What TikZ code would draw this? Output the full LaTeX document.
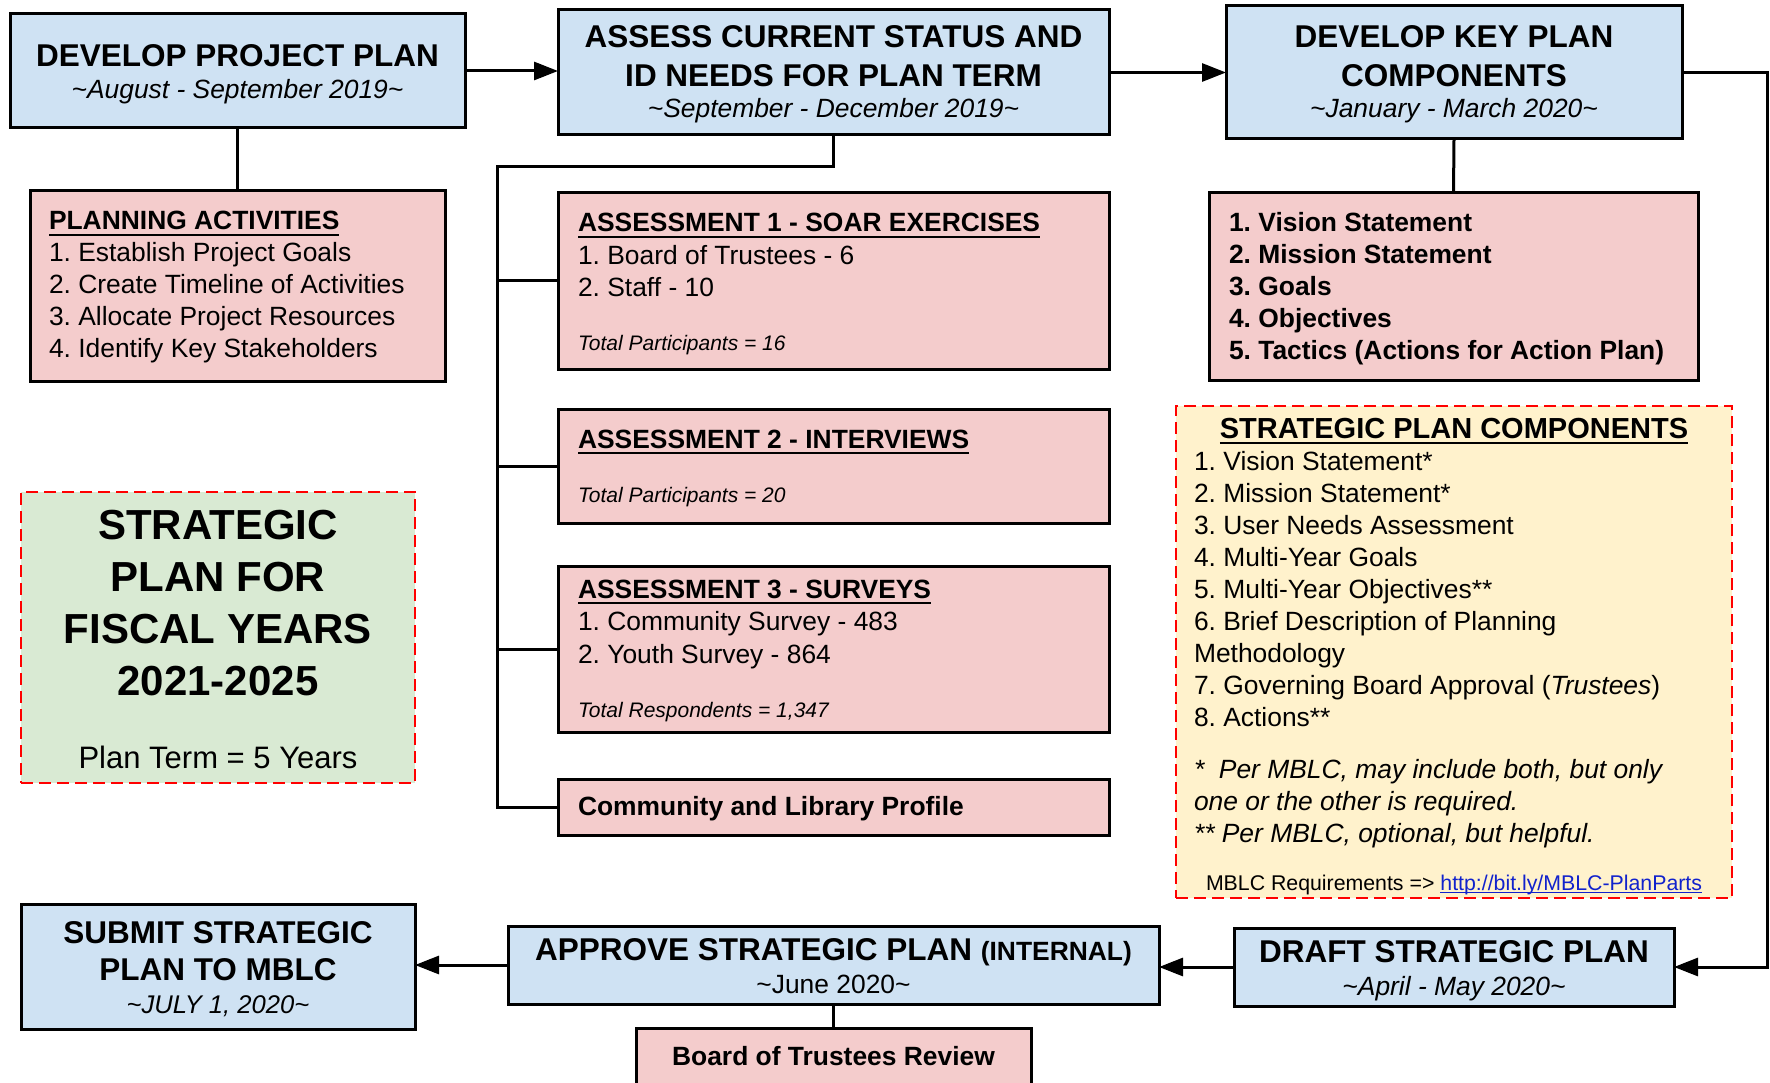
\documentclass[tikz,border=0pt]{standalone}
\usepackage{fontspec}
\setmainfont{Liberation Sans}
\usetikzlibrary{arrows.meta}

\definecolor{bluefill}{HTML}{CFE2F3}
\definecolor{pinkfill}{HTML}{F4CCCC}
\definecolor{greenfill}{HTML}{D9EAD3}
\definecolor{yellowfill}{HTML}{FFF2CC}
\definecolor{notered}{HTML}{FF0000}
\definecolor{linkblue}{RGB}{17,34,204}

% stacked lines with a fixed baseline distance; the box's baseline is the first line's
\newcommand{\clines}[2]{\vtop{\lineskiplimit=-100pt\baselineskip=#1\halign{\hfil##\hfil\cr#2\crcr}}}
\newcommand{\llines}[2]{\vtop{\lineskiplimit=-100pt\baselineskip=#1\halign{##\hfil\cr#2\crcr}}}
% heavy underline for headings, thin one for the link
\newcommand{\uln}[1]{\setbox0\hbox{#1}\rlap{\rule[-6pt]{\wd0}{2.2pt}}\box0}
\newcommand{\ulnk}[1]{\setbox0\hbox{#1}\rlap{\rule[-3.4pt]{\wd0}{1.6pt}}\box0}

\begin{document}
\frenchspacing
\begin{tikzpicture}[x=1pt,y=-1pt,
  box/.style={draw=black, line width=3pt, inner sep=0pt, outer sep=0pt, rectangle},
  bluebox/.style={box, fill=bluefill},
  pinkbox/.style={box, fill=pinkfill},
  notebox/.style={draw=notered, line width=2pt, dash pattern=on 12pt off 6pt, inner sep=0pt, outer sep=0pt, rectangle},
  link/.style={line width=3pt},
  arrow/.style={link, -{Triangle[length=24pt,width=18pt]}},
  txt/.style={inner sep=0pt, outer sep=0pt, text=black},
  head/.style={txt, font=\fontsize{31.5}{38}\selectfont\bfseries},
  when/.style={txt, font=\fontsize{26.4}{32}\selectfont\itshape},
  body/.style={txt, font=\fontsize{26.4}{32}\selectfont},
  bodybf/.style={txt, font=\fontsize{26.4}{32}\selectfont\bfseries},
  small/.style={txt, font=\fontsize{21}{25}\selectfont\itshape},
]
\path[use as bounding box] (0,0) rectangle (1770,1083);
\fill[white] (0,0) rectangle (1770,1083);
\begin{scope}
\clip (0,0) rectangle (1770,1083);

% ---- main process boxes
\node[bluebox, minimum width=455pt, minimum height=114pt] (dpp) at (237.5,71) {};
\node[bluebox, minimum width=551pt, minimum height=125pt] (assess) at (833.5,72.5) {};
\node[bluebox, minimum width=456pt, minimum height=133pt] (kpc) at (1454,72.5) {};
\node[bluebox, minimum width=440pt, minimum height=78pt] (draft) at (1454,967) {};
\node[bluebox, minimum width=651pt, minimum height=78pt] (approve) at (833.5,965) {};
\node[bluebox, minimum width=394pt, minimum height=125pt] (submit) at (218,966.5) {};

% ---- detail boxes
\node[pinkbox, minimum width=415pt, minimum height=190pt] (pa) at (237.5,286) {};
\node[pinkbox, minimum width=551pt, minimum height=176pt] (a1) at (833.5,281) {};
\node[pinkbox, minimum width=551pt, minimum height=114pt] (a2) at (833.5,466) {};
\node[pinkbox, minimum width=551pt, minimum height=166pt] (a3) at (833.5,649) {};
\node[pinkbox, minimum width=551pt, minimum height=56pt] (prof) at (833.5,807) {};
\node[pinkbox, minimum width=489pt, minimum height=187pt] (kplist) at (1453.5,286.5) {};
\node[pinkbox, minimum width=395pt, minimum height=67pt] (board) at (833.5,1061.5) {};

% ---- note boxes
\node[notebox, fill=greenfill, minimum width=394pt, minimum height=291pt] (plan) at (218,637.5) {};
\node[notebox, fill=yellowfill, minimum width=556pt, minimum height=492pt] (comp) at (1454,652) {};

% ---- connectors
\coordinate (rail) at (1767,500);
\coordinate (trunk) at (497,167);
\draw[arrow] (dpp.east) -- (dpp.east -| assess.west);
\draw[arrow] (assess.east) -- (kpc.west);
\draw[arrow] (kpc.east) -- (kpc.east -| rail) -- (draft.east -| rail) -- (draft.east);
\draw[arrow] (draft.west) -- (draft.west -| approve.east);
\draw[arrow] (approve.west) -- (approve.west -| submit.east);
\draw[link] (dpp.south) -- (pa.north);
\draw[link] (kpc.south) -- (kplist.north);
\draw[link] (approve.south) -- (board.north);
\draw[link] (assess.south) |- (trunk) -- (trunk |- prof.west) -- (prof.west);
\draw[link] (trunk |- a1.west) -- (a1.west);
\draw[link] (trunk |- a2.west) -- (a2.west);
\draw[link] (trunk |- a3.west) -- (a3.west);

% ---- texts of the process boxes
\node[head, anchor=base] (dppT) at (237.5,67) {DEVELOP PROJECT PLAN};
\node[when, anchor=base] (dppW) at (237.5,99) {\textasciitilde August - September 2019\textasciitilde};

\node[head, anchor=base] (assessT) at (833.5,48) {\clines{39pt}{ASSESS CURRENT STATUS AND\cr ID NEEDS FOR PLAN TERM}};
\node[when, anchor=base] (assessW) at (833.5,118) {\textasciitilde September - December 2019\textasciitilde};

\node[head, anchor=base] (kpcT) at (1454,48) {\clines{39pt}{DEVELOP KEY PLAN\cr COMPONENTS}};
\node[when, anchor=base] (kpcW) at (1454,118) {\textasciitilde January - March 2020\textasciitilde};

\node[head, anchor=base] (draftT) at (1454,962) {DRAFT STRATEGIC PLAN};
\node[when, anchor=base] (draftW) at (1454,995) {\textasciitilde April - May 2020\textasciitilde};

\node[head, anchor=base] (approveT) at (833.5,960) {APPROVE STRATEGIC PLAN {\fontsize{26.4}{32}\selectfont (INTERNAL)}};
\node[body, anchor=base] (approveW) at (833.5,993) {\textasciitilde June 2020\textasciitilde};

\node[head, anchor=base] (submitT) at (218,943) {\clines{37pt}{SUBMIT STRATEGIC\cr PLAN TO MBLC}};
\node[when, font=\fontsize{25.6}{31}\selectfont\itshape, anchor=base] (submitW) at (218,1013) {\textasciitilde JULY 1, 2020\textasciitilde};

% ---- texts of the detail boxes
\node[body, anchor=base west] (paT) at (49,230) {\llines{32pt}{\bfseries\uln{PLANNING ACTIVITIES}\cr
  1. Establish Project Goals\cr 2. Create Timeline of Activities\cr
  3. Allocate Project Resources\cr 4. Identify Key Stakeholders}};

\node[body, anchor=base west] (a1T) at (578,232) {\llines{32.5pt}{\bfseries\uln{ASSESSMENT 1 - SOAR EXERCISES}\cr
  1. Board of Trustees - 6\cr 2. Staff - 10}};
\node[small, anchor=base west] (a1N) at (578,350) {Total Participants = 16};

\node[bodybf, anchor=base west] (a2T) at (578,448) {\uln{ASSESSMENT 2 - INTERVIEWS}};
\node[small, anchor=base west] (a2N) at (578,502) {Total Participants = 20};

\node[body, anchor=base west] (a3T) at (578,598) {\llines{32.5pt}{\bfseries\uln{ASSESSMENT 3 - SURVEYS}\cr
  1. Community Survey - 483\cr 2. Youth Survey - 864}};
\node[small, anchor=base west] (a3N) at (578,717) {Total Respondents = 1,347};

\node[bodybf, anchor=base west] (profT) at (578,815) {Community and Library Profile};

\node[bodybf, anchor=base west] (kplistT) at (1229,232) {\llines{32pt}{1. Vision Statement\cr
  2. Mission Statement\cr 3. Goals\cr 4. Objectives\cr 5. Tactics (Actions for Action Plan)}};

\node[bodybf, anchor=base] (boardT) at (833.5,1065) {Board of Trustees Review};

% ---- texts of the note boxes
\node[txt, font=\fontsize{42}{52}\selectfont\bfseries, anchor=base] (planT) at (218,539)
  {\clines{52.3pt}{STRATEGIC\cr PLAN FOR\cr FISCAL YEARS\cr 2021-2025}};
\node[txt, font=\fontsize{31}{37}\selectfont, anchor=base] (planN) at (218,768) {Plan Term = 5 Years};

\node[txt, font=\fontsize{29}{35}\selectfont\bfseries, anchor=base] (compT) at (1454,438) {\uln{STRATEGIC PLAN COMPONENTS}};
\node[body, anchor=base west] (compL) at (1194,470) {\llines{32.1pt}{1. Vision Statement*\cr
  2. Mission Statement*\cr 3. User Needs Assessment\cr 4. Multi-Year Goals\cr
  5. Multi-Year Objectives**\cr 6. Brief Description of Planning\cr Methodology\cr
  7. Governing Board Approval (\textit{Trustees})\cr 8. Actions**}};
\node[when, anchor=base west] (compF) at (1194,778) {\llines{32pt}{*\ \ Per MBLC, may include both, but only\cr
  one or the other is required.\cr ** Per MBLC, optional, but helpful.}};
\node[txt, font=\fontsize{21.3}{26}\selectfont, anchor=base] (compR) at (1454,890)
  {MBLC Requirements => \textcolor{linkblue}{\ulnk{http://bit.ly/MBLC-PlanParts}}};
\end{scope}
\end{tikzpicture}
\end{document}
